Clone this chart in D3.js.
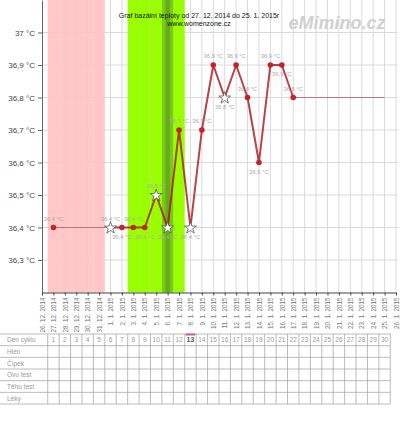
<!DOCTYPE html>
<html><head><meta charset="utf-8">
<script src="https://cdn.jsdelivr.net/npm/d3@7"></script>
<style>
html,body{margin:0;padding:0;background:#fff;}
svg{display:block;font-family:Arial,"Liberation Sans",sans-serif;}
</style></head>
<body>
<svg id="c" width="400" height="424"></svg>
<script>
// ---- data ----
const dateLabels = ["26. 12. 2014","27. 12. 2014","28. 12. 2014","29. 12. 2014","30. 12. 2014","31. 12. 2014",
  "1. 1. 2015","2. 1. 2015","3. 1. 2015","4. 1. 2015","5. 1. 2015","6. 1. 2015","7. 1. 2015","8. 1. 2015",
  "9. 1. 2015","10. 1. 2015","11. 1. 2015","12. 1. 2015","13. 1. 2015","14. 1. 2015","15. 1. 2015",
  "16. 1. 2015","17. 1. 2015","18. 1. 2015","19. 1. 2015","20. 1. 2015","21. 1. 2015","22. 1. 2015",
  "23. 1. 2015","24. 1. 2015","25. 1. 2015","26. 1. 2015"];
const measuredDates = ["27. 12. 2014","1. 1. 2015","2. 1. 2015","3. 1. 2015","4. 1. 2015","5. 1. 2015","6. 1. 2015",
  "7. 1. 2015","8. 1. 2015","9. 1. 2015","10. 1. 2015","11. 1. 2015","12. 1. 2015","13. 1. 2015","14. 1. 2015",
  "15. 1. 2015","16. 1. 2015","17. 1. 2015"];
const temperatures = [36.4,36.4,36.4,36.4,36.4,36.5,36.4,36.7,36.4,36.7,36.9,36.8,36.9,36.8,36.6,36.9,36.9,36.8];
const markerTypes = ["dot","star","dot","dot","dot","star","star","dot","star","dot","dot","star","dot","dot","dot","dot","dot","dot"];
const labelSides = ["above","above","below","above","below","above","below","above","below","above","above","below","above","above","below","above","below","above"];
const projectionDates = ["17. 1. 2015","25. 1. 2015"];
const projectionValue = 36.8;
const menstruationDates = ["27. 12. 2014","28. 12. 2014","29. 12. 2014","30. 12. 2014","31. 12. 2014"];
const fertileDates = ["3. 1. 2015","4. 1. 2015","5. 1. 2015","6. 1. 2015","7. 1. 2015"];
const ovulationDates = ["6. 1. 2015"];
const yTicks = [36.3,36.4,36.5,36.6,36.7,36.8,36.9,37.0];
const yDomain = [36.2,37.1];
const cycleDays = d3.range(1,31);
const cycleStartIndex = 1;
const todayCycleDay = 13;
const tableRows = ["Den cyklu","Hlen","Čípek","Ovu test","Těhu test","Léky"];
const titleLines = ["Graf bazální teploty od 27. 12. 2014 do 25. 1. 2015r","www.womenzone.cz"];
const watermark = "eMimino.cz";

// ---- chart ----
const svg = d3.select("#c");
const x = d3.scalePoint().domain(dateLabels).range([42,396]);
const step = x.step();
const y = d3.scaleLinear().domain(yDomain).range([292.5,0]);
const fmt = v => (Math.round(v*10)/10).toString().replace(".",",") + " °C";

// grid
const grid = svg.append("g");
grid.selectAll("line.v").data(dateLabels.slice(1)).join("line")
  .attr("x1",d=>x(d)).attr("x2",d=>x(d)).attr("y1",0).attr("y2",y(yDomain[0]))
  .attr("stroke","#dadada").attr("stroke-width",1);
grid.selectAll("line.h").data(yTicks).join("line")
  .attr("x1",42).attr("x2",398).attr("y1",d=>y(d)).attr("y2",d=>y(d))
  .attr("stroke","#dadada").attr("stroke-width",1);

// bands
const bands = svg.append("g");
function band(dates, color, shrink, op){
  bands.selectAll(null).data(dates).join("rect")
    .attr("x",d=>x(d)-step/2+shrink).attr("width",step-2*shrink)
    .attr("y",0).attr("height",y(yDomain[0]))
    .attr("fill",color).attr("opacity",op);
}
band(menstruationDates,"#ffc2c2",0,0.92);
band(fertileDates,"#99ff00",0,1);
band(ovulationDates,"#77cc11",0,1);
band(ovulationDates,"#66aa22",3.5,1);

// title + watermark
svg.append("text").attr("x",199).attr("y",17.5).attr("text-anchor","middle")
  .attr("font-size",7).attr("fill","#111").text(titleLines[0]);
svg.append("text").attr("x",199).attr("y",25.5).attr("text-anchor","middle")
  .attr("font-size",7).attr("fill","#111").text(titleLines[1]);
svg.append("text").attr("x",337).attr("y",28.5).attr("text-anchor","middle")
  .attr("font-size",18).attr("font-weight","bold").attr("font-style","italic")
  .attr("fill","#d0d0d0").text(watermark);

// axes
const yAxis = d3.axisLeft(y).tickValues(yTicks).tickSize(4).tickSizeOuter(0).tickFormat(fmt);
const gy = svg.append("g").attr("transform","translate(42,0)").call(yAxis);
gy.select(".domain").attr("stroke","#666");
gy.selectAll(".tick line").attr("stroke","#666");
gy.selectAll(".tick text").attr("font-size",8).attr("fill","#444").attr("font-family","Arial,'Liberation Sans',sans-serif");

const xAxis = d3.axisBottom(x).tickSize(3).tickSizeOuter(0);
const gx = svg.append("g").attr("transform",`translate(0,${y(yDomain[0])})`).call(xAxis);
gx.select(".domain").attr("stroke","#444");
gx.selectAll(".tick line").attr("stroke","#444");
gx.selectAll(".tick text").attr("font-size",6.3).attr("fill","#777")
  .attr("font-family","Arial,'Liberation Sans',sans-serif")
  .attr("text-anchor","end").attr("transform","rotate(-90)")
  .attr("x",-5).attr("y",0).attr("dy","0.35em");

// lines
const pts = measuredDates.map((d,i)=>({d, v:temperatures[i], m:markerTypes[i], s:labelSides[i]}));
const line = d3.line().x(p=>x(p.d)).y(p=>y(p.v));
svg.append("path").attr("d",line([pts[0],pts[1]])).attr("fill","none")
  .attr("stroke","#a04848").attr("stroke-width",1).attr("opacity",0.65);
svg.append("path").attr("d",line(projectionDates.map(d=>({d,v:projectionValue})))).attr("fill","none")
  .attr("stroke","#a04848").attr("stroke-width",1).attr("opacity",0.65);
svg.append("path").attr("d",line(pts.slice(1))).attr("fill","none")
  .attr("stroke","#a8141c").attr("stroke-width",2).attr("opacity",0.8).attr("stroke-linejoin","round");

// markers
svg.selectAll("circle.pt").data(pts.filter(p=>p.m==="dot")).join("circle")
  .attr("cx",p=>x(p.d)).attr("cy",p=>y(p.v)).attr("r",2.8).attr("fill","#c8202a");
const star = d3.symbol().type(d3.symbolStar).size(45);
svg.selectAll("path.st").data(pts.filter(p=>p.m==="star")).join("path")
  .attr("d",star).attr("transform",p=>`translate(${x(p.d)},${y(p.v)+0.5})`)
  .attr("fill","#fff").attr("stroke","#555").attr("stroke-width",0.8);

// data labels
svg.selectAll("text.lbl").data(pts).join("text")
  .attr("x",p=>x(p.d)).attr("y",p=>y(p.v)+(p.s==="above"?-7:11))
  .attr("text-anchor","middle").attr("font-size",5.8).attr("fill","#aaa")
  .text(p=>fmt(p.v));

// table
const tTop = 334, rh = 11.67;
const cellX = n => x(dateLabels[cycleStartIndex+n-1]) - step/2;
const tEnd = cellX(cycleDays.length) + step;
const tg = svg.append("g");
tableRows.forEach((r,i)=>{
  tg.append("line").attr("x1",0).attr("x2",tEnd).attr("y1",tTop+i*rh).attr("y2",tTop+i*rh)
    .attr("stroke","#aaa").attr("stroke-width",0.8);
  tg.append("text").attr("x",7).attr("y",tTop+i*rh+8.2).attr("font-size",6.5).attr("fill","#999").text(r);
});
tg.append("line").attr("x1",0).attr("x2",tEnd).attr("y1",tTop+tableRows.length*rh).attr("y2",tTop+tableRows.length*rh)
  .attr("stroke","#aaa").attr("stroke-width",0.8);
tg.selectAll("line.col").data(cycleDays.concat([cycleDays.length+1])).join("line")
  .attr("x1",n=>cellX(n)).attr("x2",n=>cellX(n)).attr("y1",tTop).attr("y2",tTop+tableRows.length*rh)
  .attr("stroke","#aaa").attr("stroke-width",0.8);
tg.selectAll("text.day").data(cycleDays).join("text")
  .attr("x",n=>cellX(n)+step/2).attr("y",tTop+8.2).attr("text-anchor","middle")
  .attr("font-size",n=>n===todayCycleDay?7:6.5).attr("font-weight",n=>n===todayCycleDay?"bold":"normal")
  .attr("fill",n=>n===todayCycleDay?"#555":"#999").text(n=>n);
tg.append("line").attr("x1",cellX(todayCycleDay)+1).attr("x2",cellX(todayCycleDay)+step-1)
  .attr("y1",tTop+0.5).attr("y2",tTop+0.5).attr("stroke","#d0579a").attr("stroke-width",2);
</script>
</body></html>
